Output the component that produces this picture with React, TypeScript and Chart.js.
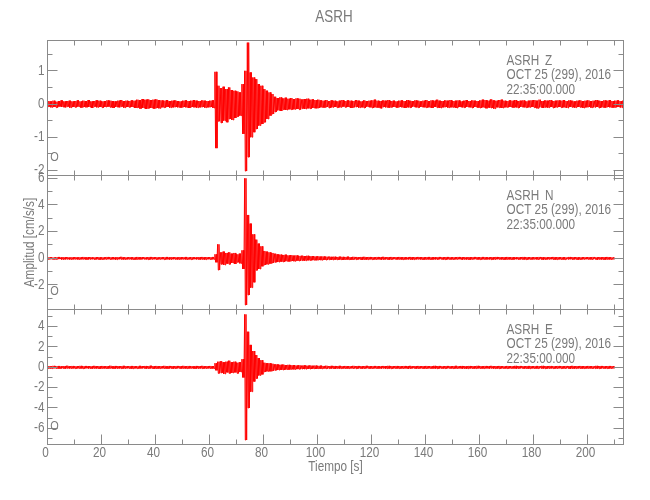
import React, { useEffect, useRef } from 'react';
import { Chart, registerables } from 'chart.js';

Chart.register(...registerables);

// ---------- text ----------
const TITLE = 'ASRH';
const STATION = 'ASRH';
const DATE_LINE = 'OCT 25 (299), 2016';
const TIME_LINE = '22:35:00.000';
const X_TITLE = 'Tiempo [s]';
const Y_TITLE = 'Amplitud [cm/s/s]';
const MARKER = 'O';

// ---------- axes ----------
const X_TICKS = [0, 20, 40, 60, 80, 100, 120, 140, 160, 180, 200];
const X_MINOR_STEP = 10;
const X_MAX = 213.3;

const Z_TICKS = [-2, -1, 0, 1];
const N_TICKS = [-2, 0, 2, 4, 6];
const E_TICKS = [-6, -4, -2, 0, 2, 4];

// ---------- series: per-second upper / lower envelope of the trace ----------
const Z_UPPER = [
  0.09, 0.08, 0.10, 0.07, 0.09, 0.11, 0.08, 0.09, 0.10, 0.08,
  0.09, 0.11, 0.08, 0.10, 0.09, 0.12, 0.08, 0.09, 0.11, 0.10,
  0.08, 0.09, 0.11, 0.10, 0.09, 0.08, 0.10, 0.12, 0.09, 0.10,
  0.09, 0.11, 0.10, 0.13, 0.12, 0.15, 0.13, 0.14, 0.12, 0.13,
  0.14, 0.12, 0.11, 0.10, 0.12, 0.09, 0.10, 0.11, 0.09, 0.08,
  0.10, 0.11, 0.09, 0.10, 0.12, 0.10, 0.09, 0.11, 0.10, 0.09,
  0.10, 0.11, 0.97, 0.55, 0.48, 0.52, 0.45, 0.50, 0.42, 0.40,
  0.38, 0.35, 0.60, 1.00, 1.85, 0.95, 0.80, 0.75, 0.60, 0.55,
  0.45, 0.40, 0.35, 0.30, 0.22, 0.18, 0.20, 0.17, 0.19, 0.16,
  0.18, 0.15, 0.17, 0.16, 0.14, 0.15, 0.16, 0.13, 0.14, 0.12,
  0.13, 0.11, 0.10, 0.12, 0.09, 0.11, 0.10, 0.08, 0.10, 0.12,
  0.09, 0.11, 0.10, 0.09, 0.12, 0.10, 0.08, 0.11, 0.09, 0.10,
  0.11, 0.13, 0.10, 0.09, 0.11, 0.10, 0.12, 0.09, 0.10, 0.08,
  0.10, 0.11, 0.09, 0.12, 0.10, 0.09, 0.11, 0.10, 0.08, 0.10,
  0.12, 0.09, 0.11, 0.10, 0.13, 0.10, 0.09, 0.11, 0.10, 0.12,
  0.09, 0.10, 0.11, 0.08, 0.10, 0.12, 0.09, 0.11, 0.10, 0.09,
  0.11, 0.13, 0.12, 0.10, 0.14, 0.11, 0.10, 0.12, 0.13, 0.10,
  0.09, 0.11, 0.10, 0.12, 0.09, 0.10, 0.11, 0.08, 0.10, 0.11,
  0.12, 0.10, 0.13, 0.09, 0.11, 0.10, 0.12, 0.09, 0.10, 0.11,
  0.10, 0.12, 0.09, 0.11, 0.10, 0.08, 0.10, 0.11, 0.09, 0.10,
  0.11, 0.09, 0.10, 0.12, 0.10, 0.09, 0.11, 0.10, 0.12, 0.09,
  0.10, 0.11, 0.09, 0.10,
];
const Z_LOWER = [
  -0.08, -0.10, -0.09, -0.11, -0.08, -0.09, -0.10, -0.08, -0.11, -0.09,
  -0.10, -0.08, -0.11, -0.09, -0.10, -0.09, -0.12, -0.08, -0.10, -0.09,
  -0.11, -0.09, -0.08, -0.10, -0.12, -0.09, -0.10, -0.08, -0.11, -0.09,
  -0.10, -0.09, -0.12, -0.11, -0.14, -0.12, -0.15, -0.13, -0.12, -0.14,
  -0.12, -0.13, -0.10, -0.11, -0.09, -0.11, -0.10, -0.09, -0.10, -0.11,
  -0.09, -0.10, -0.12, -0.09, -0.10, -0.11, -0.10, -0.09, -0.11, -0.10,
  -0.09, -0.12, -1.33, -0.52, -0.57, -0.50, -0.55, -0.45, -0.48, -0.42,
  -0.38, -0.35, -0.90, -2.02, -1.60, -1.00, -0.85, -0.75, -0.65, -0.60,
  -0.55, -0.45, -0.35, -0.30, -0.24, -0.19, -0.21, -0.17, -0.18, -0.16,
  -0.17, -0.16, -0.15, -0.17, -0.14, -0.15, -0.13, -0.14, -0.12, -0.13,
  -0.12, -0.10, -0.11, -0.09, -0.12, -0.10, -0.09, -0.11, -0.10, -0.08,
  -0.10, -0.09, -0.12, -0.10, -0.09, -0.11, -0.10, -0.12, -0.08, -0.10,
  -0.12, -0.10, -0.11, -0.13, -0.09, -0.10, -0.11, -0.10, -0.09, -0.11,
  -0.09, -0.10, -0.12, -0.10, -0.11, -0.08, -0.10, -0.11, -0.09, -0.10,
  -0.11, -0.10, -0.12, -0.09, -0.11, -0.12, -0.10, -0.09, -0.11, -0.10,
  -0.10, -0.12, -0.09, -0.10, -0.11, -0.09, -0.10, -0.12, -0.09, -0.11,
  -0.12, -0.10, -0.13, -0.11, -0.12, -0.14, -0.10, -0.11, -0.12, -0.10,
  -0.10, -0.09, -0.11, -0.10, -0.12, -0.09, -0.10, -0.11, -0.10, -0.09,
  -0.11, -0.13, -0.10, -0.12, -0.10, -0.11, -0.09, -0.12, -0.10, -0.09,
  -0.11, -0.10, -0.12, -0.09, -0.10, -0.11, -0.09, -0.10, -0.12, -0.10,
  -0.09, -0.11, -0.10, -0.09, -0.12, -0.10, -0.11, -0.09, -0.10, -0.11,
  -0.10, -0.09, -0.11, -0.10,
];

const N_UPPER = [
  0.07, 0.09, 0.06, 0.08, 0.10, 0.07, 0.08, 0.09, 0.06, 0.08,
  0.09, 0.07, 0.08, 0.10, 0.07, 0.09, 0.08, 0.06, 0.09, 0.08,
  0.07, 0.08, 0.10, 0.08, 0.09, 0.07, 0.08, 0.11, 0.08, 0.07,
  0.09, 0.08, 0.07, 0.10, 0.08, 0.09, 0.07, 0.08, 0.10, 0.09,
  0.08, 0.07, 0.09, 0.08, 0.10, 0.07, 0.09, 0.08, 0.07, 0.09,
  0.08, 0.10, 0.07, 0.09, 0.08, 0.07, 0.09, 0.10, 0.08, 0.09,
  0.08, 0.10, 0.30, 1.05, 0.45, 0.50, 0.40, 0.45, 0.35, 0.40,
  0.30, 0.35, 0.60, 6.00, 3.25, 2.60, 1.80, 1.40, 1.10, 0.90,
  0.55, 0.50, 0.45, 0.40, 0.35, 0.30, 0.28, 0.25, 0.27, 0.22,
  0.24, 0.20, 0.22, 0.18, 0.20, 0.17, 0.19, 0.15, 0.17, 0.14,
  0.15, 0.13, 0.14, 0.12, 0.13, 0.11, 0.12, 0.10, 0.12, 0.11,
  0.10, 0.12, 0.09, 0.11, 0.10, 0.08, 0.10, 0.11, 0.09, 0.10,
  0.09, 0.08, 0.10, 0.09, 0.11, 0.08, 0.09, 0.10, 0.08, 0.09,
  0.10, 0.08, 0.09, 0.07, 0.10, 0.09, 0.08, 0.10, 0.09, 0.08,
  0.09, 0.10, 0.08, 0.09, 0.07, 0.10, 0.08, 0.09, 0.10, 0.08,
  0.08, 0.09, 0.10, 0.08, 0.09, 0.07, 0.09, 0.08, 0.10, 0.09,
  0.08, 0.10, 0.09, 0.07, 0.09, 0.08, 0.10, 0.09, 0.08, 0.09,
  0.10, 0.08, 0.09, 0.08, 0.07, 0.09, 0.10, 0.08, 0.09, 0.08,
  0.09, 0.08, 0.10, 0.09, 0.07, 0.08, 0.09, 0.10, 0.08, 0.09,
  0.08, 0.09, 0.07, 0.10, 0.08, 0.09, 0.08, 0.07, 0.09, 0.08,
  0.09, 0.08, 0.10, 0.07, 0.09, 0.08, 0.09, 0.10, 0.08, 0.07,
];
const N_LOWER = [
  -0.08, -0.07, -0.09, -0.08, -0.06, -0.09, -0.08, -0.07, -0.09, -0.08,
  -0.07, -0.09, -0.08, -0.07, -0.10, -0.08, -0.07, -0.09, -0.08, -0.10,
  -0.09, -0.08, -0.07, -0.09, -0.08, -0.10, -0.07, -0.08, -0.09, -0.08,
  -0.07, -0.09, -0.10, -0.08, -0.09, -0.07, -0.08, -0.10, -0.08, -0.07,
  -0.09, -0.08, -0.07, -0.10, -0.08, -0.09, -0.07, -0.08, -0.09, -0.08,
  -0.07, -0.09, -0.08, -0.10, -0.07, -0.08, -0.09, -0.08, -0.10, -0.07,
  -0.09, -0.08, -0.30, -0.88, -0.45, -0.50, -0.40, -0.45, -0.35, -0.42,
  -0.30, -0.38, -0.80, -3.50, -2.75, -2.20, -1.80, -0.90, -0.80, -0.60,
  -0.50, -0.45, -0.40, -0.35, -0.30, -0.28, -0.25, -0.27, -0.22, -0.24,
  -0.20, -0.22, -0.18, -0.20, -0.17, -0.18, -0.15, -0.16, -0.14, -0.15,
  -0.13, -0.14, -0.12, -0.13, -0.11, -0.12, -0.10, -0.11, -0.10, -0.12,
  -0.09, -0.10, -0.11, -0.09, -0.10, -0.08, -0.11, -0.09, -0.10, -0.08,
  -0.10, -0.09, -0.08, -0.10, -0.09, -0.08, -0.10, -0.09, -0.07, -0.09,
  -0.08, -0.10, -0.09, -0.08, -0.09, -0.10, -0.08, -0.07, -0.09, -0.10,
  -0.08, -0.09, -0.10, -0.08, -0.09, -0.07, -0.09, -0.10, -0.08, -0.09,
  -0.09, -0.08, -0.07, -0.10, -0.08, -0.09, -0.10, -0.08, -0.07, -0.09,
  -0.10, -0.08, -0.09, -0.08, -0.10, -0.09, -0.07, -0.08, -0.09, -0.10,
  -0.08, -0.09, -0.10, -0.07, -0.09, -0.08, -0.09, -0.10, -0.08, -0.09,
  -0.07, -0.09, -0.08, -0.10, -0.09, -0.08, -0.07, -0.09, -0.10, -0.08,
  -0.09, -0.10, -0.08, -0.07, -0.09, -0.08, -0.10, -0.09, -0.08, -0.07,
  -0.08, -0.09, -0.07, -0.10, -0.08, -0.09, -0.10, -0.08, -0.09, -0.08,
];

const E_UPPER = [
  0.12, 0.10, 0.14, 0.11, 0.13, 0.10, 0.12, 0.15, 0.11, 0.13,
  0.10, 0.12, 0.14, 0.11, 0.13, 0.12, 0.10, 0.14, 0.12, 0.11,
  0.13, 0.11, 0.12, 0.15, 0.10, 0.13, 0.12, 0.11, 0.14, 0.12,
  0.11, 0.13, 0.12, 0.10, 0.14, 0.12, 0.13, 0.11, 0.15, 0.12,
  0.13, 0.11, 0.12, 0.14, 0.10, 0.13, 0.12, 0.11, 0.13, 0.12,
  0.14, 0.11, 0.13, 0.12, 0.10, 0.13, 0.12, 0.14, 0.11, 0.12,
  0.13, 0.12, 0.40, 0.55, 0.60, 0.50, 0.55, 0.65, 0.50, 0.55,
  0.45, 0.50, 0.80, 5.20, 3.50, 2.20, 1.60, 1.20, 0.90, 0.70,
  0.45, 0.40, 0.40, 0.35, 0.30, 0.28, 0.25, 0.27, 0.22, 0.24,
  0.20, 0.22, 0.18, 0.20, 0.17, 0.19, 0.16, 0.18, 0.15, 0.17,
  0.14, 0.16, 0.13, 0.15, 0.12, 0.14, 0.13, 0.12, 0.14, 0.11,
  0.13, 0.12, 0.11, 0.14, 0.12, 0.13, 0.11, 0.12, 0.14, 0.12,
  0.11, 0.13, 0.12, 0.10, 0.13, 0.12, 0.14, 0.11, 0.12, 0.13,
  0.12, 0.11, 0.13, 0.12, 0.14, 0.10, 0.12, 0.13, 0.11, 0.12,
  0.13, 0.12, 0.11, 0.14, 0.12, 0.13, 0.10, 0.12, 0.13, 0.11,
  0.12, 0.14, 0.11, 0.13, 0.12, 0.10, 0.13, 0.12, 0.11, 0.14,
  0.12, 0.11, 0.13, 0.12, 0.14, 0.11, 0.12, 0.13, 0.12, 0.10,
  0.13, 0.12, 0.11, 0.14, 0.12, 0.13, 0.11, 0.12, 0.13, 0.12,
  0.11, 0.13, 0.12, 0.14, 0.11, 0.12, 0.13, 0.10, 0.12, 0.13,
  0.12, 0.11, 0.13, 0.12, 0.14, 0.11, 0.12, 0.13, 0.12, 0.11,
  0.13, 0.12, 0.11, 0.14, 0.12, 0.13, 0.11, 0.12, 0.13, 0.12,
];
const E_LOWER = [
  -0.11, -0.13, -0.10, -0.12, -0.14, -0.11, -0.13, -0.10, -0.12, -0.11,
  -0.13, -0.11, -0.12, -0.14, -0.10, -0.12, -0.13, -0.11, -0.12, -0.14,
  -0.11, -0.12, -0.13, -0.10, -0.14, -0.12, -0.11, -0.13, -0.12, -0.10,
  -0.12, -0.14, -0.11, -0.13, -0.12, -0.10, -0.13, -0.12, -0.11, -0.14,
  -0.12, -0.13, -0.11, -0.12, -0.14, -0.11, -0.13, -0.12, -0.10, -0.13,
  -0.11, -0.13, -0.12, -0.10, -0.14, -0.12, -0.11, -0.13, -0.12, -0.11,
  -0.12, -0.13, -0.30, -0.60, -0.55, -0.65, -0.50, -0.60, -0.55, -0.50,
  -0.60, -0.45, -1.00, -7.15, -4.00, -2.40, -1.40, -1.10, -0.80, -0.70,
  -0.45, -0.40, -0.40, -0.35, -0.30, -0.27, -0.25, -0.26, -0.22, -0.23,
  -0.20, -0.21, -0.18, -0.19, -0.17, -0.18, -0.15, -0.17, -0.14, -0.16,
  -0.13, -0.15, -0.12, -0.14, -0.13, -0.12, -0.14, -0.11, -0.13, -0.12,
  -0.12, -0.13, -0.11, -0.12, -0.14, -0.11, -0.13, -0.12, -0.10, -0.13,
  -0.12, -0.11, -0.13, -0.12, -0.10, -0.13, -0.12, -0.14, -0.11, -0.12,
  -0.13, -0.12, -0.11, -0.14, -0.12, -0.10, -0.13, -0.12, -0.11, -0.13,
  -0.12, -0.11, -0.13, -0.12, -0.14, -0.11, -0.12, -0.13, -0.10, -0.12,
  -0.13, -0.12, -0.11, -0.13, -0.12, -0.14, -0.11, -0.12, -0.13, -0.11,
  -0.12, -0.13, -0.11, -0.12, -0.10, -0.13, -0.12, -0.14, -0.11, -0.12,
  -0.13, -0.11, -0.12, -0.13, -0.12, -0.10, -0.13, -0.12, -0.14, -0.11,
  -0.12, -0.13, -0.11, -0.12, -0.14, -0.12, -0.11, -0.13, -0.12, -0.10,
  -0.13, -0.12, -0.11, -0.14, -0.12, -0.13, -0.11, -0.12, -0.13, -0.12,
  -0.11, -0.12, -0.13, -0.12, -0.14, -0.11, -0.12, -0.13, -0.12, -0.11,
];

// ---------- layout / style ----------
const FONT = '"Liberation Sans", Arial, sans-serif';
const TEXT_SQUEEZE = 0.84;
const LINE_COLOR = '#8a8a8a';
const TEXT_COLOR = '#7a7a7a';
const TRACE_COLOR = '#ff0000';
const PLOT_LEFT = 47.5;
const PLOT_RIGHT = 623.5;

type PanelCfg = {
  key: string;
  component: string;
  upper: number[];
  lower: number[];
  ticks: number[];
  minor: number;
  min: number;
  max: number;
  top: number;
  bottom: number;
  first?: boolean;
  middle?: boolean;
  last?: boolean;
};

const PANELS: PanelCfg[] = [
  { key: 'z', component: 'Z', upper: Z_UPPER, lower: Z_LOWER, ticks: Z_TICKS, minor: 0.5, min: -2.154, max: 1.913, top: 40.5, bottom: 175.5, first: true },
  { key: 'n', component: 'N', upper: N_UPPER, lower: N_LOWER, ticks: N_TICKS, minor: 1, min: -3.84, max: 6.21, top: 175.5, bottom: 309.5, middle: true },
  { key: 'e', component: 'E', upper: E_UPPER, lower: E_LOWER, ticks: E_TICKS, minor: 1, min: -7.59, max: 5.68, top: 309.5, bottom: 444.5, last: true },
];

const fmt = (v: number) => (v < 0 ? '-' + String(-v) : String(v));

function drawText(
  ctx: CanvasRenderingContext2D,
  s: string,
  x: number,
  y: number,
  align: CanvasTextAlign,
  size: number,
  rotate = 0,
) {
  ctx.save();
  ctx.font = size + 'px ' + FONT;
  ctx.fillStyle = TEXT_COLOR;
  ctx.textBaseline = 'middle';
  ctx.textAlign = align;
  ctx.translate(x, y);
  if (rotate) ctx.rotate(rotate);
  ctx.scale(TEXT_SQUEEZE, 1);
  ctx.fillText(s, 0, 0);
  ctx.restore();
}

function panelPlugin(p: PanelCfg) {
  return {
    id: 'panel_' + p.key,
    afterDraw(chart: any) {
      const { ctx, chartArea: a } = chart;
      const xs = chart.scales.x;
      const ys = chart.scales.y;
      ctx.save();
      ctx.strokeStyle = LINE_COLOR;
      ctx.lineWidth = 1;
      ctx.strokeRect(a.left, a.top, a.right - a.left, a.bottom - a.top);
      ctx.beginPath();
      for (let t = 0; t <= X_MAX; t += X_MINOR_STEP) {
        const px = Math.floor(xs.getPixelForValue(t)) + 0.5;
        const major = X_TICKS.includes(t);
        ctx.moveTo(px, a.top);
        ctx.lineTo(px, a.top + 5);
        const lb = p.last && major ? 10 : 5;
        ctx.moveTo(px, a.bottom);
        ctx.lineTo(px, a.bottom - lb);
      }
      const start = Math.ceil(p.min / p.minor) * p.minor;
      for (let v = start; v <= p.max + 1e-9; v += p.minor) {
        const vv = Math.round(v * 1000) / 1000;
        const major = p.ticks.includes(vv);
        const py = Math.floor(ys.getPixelForValue(vv)) + 0.5;
        const len = major ? 10 : 5;
        ctx.moveTo(a.left, py);
        ctx.lineTo(a.left + len, py);
        ctx.moveTo(a.right, py);
        ctx.lineTo(a.right - len, py);
      }
      ctx.stroke();
      ctx.restore();

      p.ticks.forEach((v) => drawText(ctx, fmt(v), a.left - 3, ys.getPixelForValue(v), 'right', 14));

      // header text block
      drawText(ctx, STATION, 506.5, a.top + 20.5, 'left', 14);
      drawText(ctx, p.component, 545, a.top + 20.5, 'left', 14);
      drawText(ctx, DATE_LINE, 506.5, a.top + 35, 'left', 14);
      drawText(ctx, TIME_LINE, 506.5, a.top + 49.5, 'left', 14);

      // origin marker
      drawText(ctx, MARKER, 54.5, a.bottom - 18, 'center', 13);

      if (p.first) drawText(ctx, TITLE, 334, 18, 'center', 16);
      if (p.middle) drawText(ctx, Y_TITLE, 30, (a.top + a.bottom) / 2, 'center', 14, -Math.PI / 2);
      if (p.last) {
        X_TICKS.forEach((t) => drawText(ctx, String(t), xs.getPixelForValue(t) - 2, a.bottom + 9, 'center', 14));
        drawText(ctx, X_TITLE, (a.left + a.right) / 2, a.bottom + 23, 'center', 14);
      }
    },
  };
}

function makeChart(canvas: HTMLCanvasElement, p: PanelCfg) {
  // trace path: within each second, swing between the read envelope values
  const pts: { x: number; y: number }[] = [];
  p.upper.forEach((u, i) => {
    const l = p.lower[i];
    pts.push({ x: i, y: u });
    pts.push({ x: i + 0.25, y: l });
    pts.push({ x: i + 0.5, y: u });
    pts.push({ x: i + 0.75, y: l });
  });
  return new Chart(canvas, {
    type: 'line',
    data: {
      datasets: [
        {
          data: pts,
          borderColor: TRACE_COLOR,
          borderWidth: 1,
          pointRadius: 0,
          tension: 0,
          fill: false,
        },
      ],
    },
    options: {
      animation: false,
      responsive: false,
      events: [],
      layout: {
        padding: { left: PLOT_LEFT, right: 650 - PLOT_RIGHT, top: p.top, bottom: 500 - p.bottom },
      },
      scales: {
        x: { type: 'linear', min: 0, max: X_MAX, display: false },
        y: { type: 'linear', min: p.min, max: p.max, display: false },
      },
      plugins: { legend: { display: false }, tooltip: { enabled: false }, title: { display: false } },
    },
    plugins: [panelPlugin(p)],
  } as any);
}

export default function App() {
  const r0 = useRef<HTMLCanvasElement>(null);
  const r1 = useRef<HTMLCanvasElement>(null);
  const r2 = useRef<HTMLCanvasElement>(null);
  const refs = [r0, r1, r2];

  useEffect(() => {
    const charts = PANELS.map((p, i) => makeChart(refs[i].current as HTMLCanvasElement, p));
    return () => charts.forEach((c) => c.destroy());
  }, []);

  return (
    <div style={{ position: 'fixed', left: 0, top: 0, width: 650, height: 500, background: '#ffffff' }}>
      {refs.map((r, i) => (
        <canvas
          key={i}
          ref={r}
          width={650}
          height={500}
          style={{ position: 'absolute', left: 0, top: 0, width: 650, height: 500 }}
        />
      ))}
    </div>
  );
}
